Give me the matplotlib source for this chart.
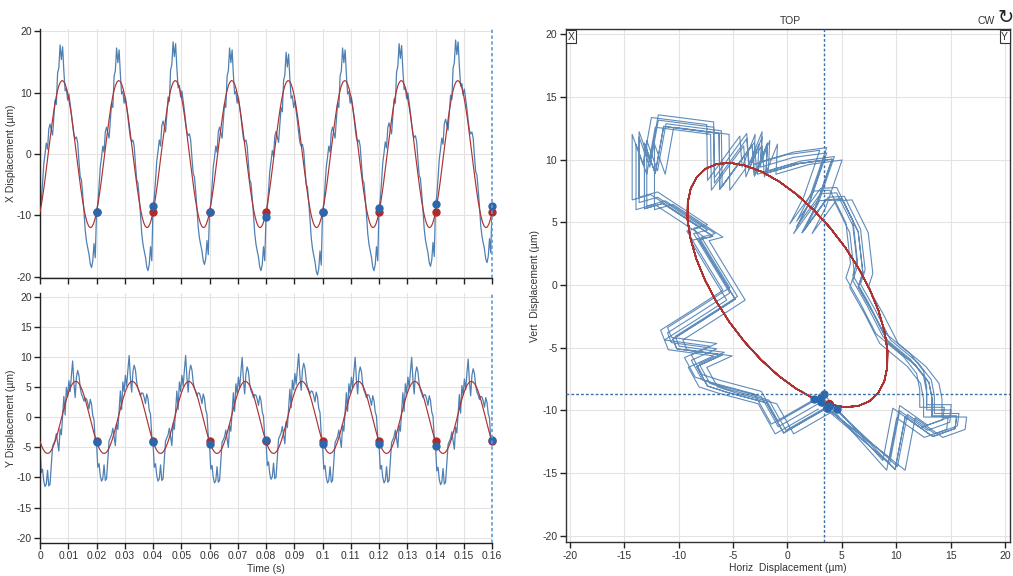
import numpy as np
import matplotlib.pyplot as plt
from matplotlib.ticker import FuncFormatter

plt.rcParams['font.family'] = ['Liberation Sans', 'DejaVu Sans']
plt.rcParams['axes.unicode_minus'] = False

rev_period = 0.02
n_revs = 8

# one revolution of raw probe samples (um), starting at the once-per-rev mark
x_raw = [-9.0, -7.6, -4.8, -1.6, 0.0, 1.8, 0.8, 4.1, 4.9, 4.0, 3.1, 6.0, 8.8, 8.1,
         13.2, 14.1, 17.8, 15.4, 17.5, 13.5, 10.3, 10.7, 8.8, 9.8, 8.2, 6.6, 4.7, 3.1,
         2.5, 2.8, 1.8, -1.1, -3.7, -4.2, -6.6, -9.3, -12.4, -14.2, -15.3, -16.3,
         -17.9, -18.5, -17.5, -14.6, -16.9]
y_raw = [-4.2, -8.4, -7.8, -9.8, -10.7, -10.3, -8.0, -10.6, -10.3, -7.2, -4.0, -3.5,
         -3.0, -1.9, -3.3, -4.8, -1.1, -2.1, 1.1, 4.3, 1.2, 5.8, 4.2, 6.9, 5.1, 7.8,
         10.2, 6.5, 4.1, 7.5, 8.6, 7.8, 5.8, 4.7, 4.2, 3.5, 4.0, 3.9, 3.2, 2.2, 3.8,
         3.0, 1.1, 0.4, -3.2]

# raw value at the start of each revolution (t = 0, 0.02, ... 0.16)
mark_x = [-9.0, -9.5, -8.5, -9.5, -10.2, -9.5, -8.8, -8.2, -8.5]
mark_y = [-5.0, -4.1, -4.1, -4.4, -3.8, -4.4, -4.4, -4.7, -3.8]

# 1X filtered signal, one revolution
x_filt = [-9.46, -8.03, -6.36, -4.50, -2.49, -0.42, 1.67, 3.71, 5.63, 7.39, 8.92, 10.18,
          11.13, 11.74, 11.99, 11.88, 11.41, 10.60, 9.46, 8.03, 6.36, 4.50, 2.49, 0.42,
          -1.67, -3.71, -5.63, -7.39, -8.92, -10.18, -11.13, -11.74, -11.99, -11.88,
          -11.41, -10.60]
y_filt = [-4.01, -4.73, -5.30, -5.71, -5.94, -6.00, -5.87, -5.56, -5.09, -4.46, -3.69,
          -2.82, -1.85, -0.84, 0.21, 1.25, 2.25, 3.18, 4.01, 4.73, 5.30, 5.71, 5.94,
          6.00, 5.87, 5.56, 5.09, 4.46, 3.69, 2.82, 1.85, 0.84, -0.21, -1.25, -2.25,
          -3.18]

time_ticks = [0, 0.01, 0.02, 0.03, 0.04, 0.05, 0.06, 0.07, 0.08, 0.09, 0.1, 0.11,
              0.12, 0.13, 0.14, 0.15, 0.16]

blue = '#4f80b3'
blue_dot = '#2b67ad'
red = '#ad3333'
red_dot = '#b02a2a'
grid_c = '#e6e2e2'
txt_c = '#333333'

# build the time records
x_raw = np.array(x_raw)
y_raw = np.array(y_raw)
n_raw = len(x_raw)
xs, ys = [], []
for k in range(n_revs):
    xs.append(x_raw + (mark_x[k] - x_raw[0]))
    ys.append(y_raw + (mark_y[k] - y_raw[0]))
xs.append([mark_x[-1]])
ys.append([mark_y[-1]])
x_sig = np.concatenate(xs)
y_sig = np.concatenate(ys)
t_sig = np.arange(len(x_sig)) * rev_period / n_raw

n_f = len(x_filt)
xf_sig = np.array(x_filt * n_revs + [x_filt[0]])
yf_sig = np.array(y_filt * n_revs + [y_filt[0]])
tf_sig = np.arange(len(xf_sig)) * rev_period / n_f

mark_idx = np.arange(1, n_revs + 1) * n_raw
mark_idx_f = np.arange(1, n_revs + 1) * n_f

# probes mounted at +/-45 deg -> horizontal / vertical orbit
r2 = np.sqrt(2)
h_sig = (y_sig - x_sig) / r2
v_sig = (x_sig + y_sig) / r2
hf_sig = (yf_sig - xf_sig) / r2
vf_sig = (xf_sig + yf_sig) / r2

fig = plt.figure(figsize=(10.13, 5.76), dpi=100)
ax_x = fig.add_axes([0.0395, 0.5174, 0.4462, 0.4323])
ax_y = fig.add_axes([0.0395, 0.0573, 0.4462, 0.434])
ax_o = fig.add_axes([0.5584, 0.0585, 0.4386, 0.8906])

fmt = FuncFormatter(lambda v, p: '%g' % round(v, 2))

for ax, raw, filt, yl, yticks, lim in [
        (ax_x, x_sig, xf_sig, 'X Displacement (µm)', [-20, -10, 0, 10, 20], (-20.2, 20.4)),
        (ax_y, y_sig, yf_sig, 'Y Displacement (µm)', [-20, -15, -10, -5, 0, 5, 10, 15, 20], (-20.9, 20.7))]:
    ax.plot(t_sig, raw, color=blue, lw=0.9, zorder=2)
    ax.plot(tf_sig, filt, color=red, lw=0.85, zorder=3)
    ax.plot(tf_sig[mark_idx_f], filt[mark_idx_f], 'o', color=red_dot, ms=5, zorder=4,
            clip_on=False)
    ax.plot(t_sig[mark_idx], raw[mark_idx], 'o', color=blue_dot, ms=5, zorder=5,
            clip_on=False)
    ax.axvline(t_sig[-1], color='#5b9bd5', lw=1.2, ls=(0, (2, 1.5)), zorder=6,
               clip_on=False)
    ax.set_xlim(0, 0.16)
    ax.set_ylim(*lim)
    ax.set_yticks(yticks)
    ax.set_xticks(time_ticks)
    ax.xaxis.set_major_formatter(fmt)
    ax.grid(True, color=grid_c, lw=0.8)
    ax.set_axisbelow(True)
    for s in ['top', 'right']:
        ax.spines[s].set_visible(False)
    for s in ['left', 'bottom']:
        ax.spines[s].set_color('#222222')
        ax.spines[s].set_linewidth(1.0)
    ax.tick_params(direction='out', length=4, width=1, colors='#222222',
                   labelsize=7.5, labelcolor=txt_c, pad=2)
    ax.set_ylabel(yl, fontsize=7.5, color=txt_c)
    ax.yaxis.set_label_coords(-0.054, 0.5)

ax_x.tick_params(axis='x', labelbottom=False)
ax_y.set_xlabel('Time (s)', fontsize=7.5, color=txt_c, labelpad=2)

# orbit
ax_o.plot(h_sig, v_sig, color=blue, lw=0.8, alpha=0.9, zorder=2)
ax_o.plot(hf_sig, vf_sig, color=red, lw=1.0, zorder=3)
ax_o.plot(hf_sig[mark_idx_f], vf_sig[mark_idx_f], 'o', color=red_dot, ms=5, zorder=4)
ax_o.plot(h_sig[mark_idx], v_sig[mark_idx], 'o', color=blue_dot, ms=5, zorder=5)
ax_o.axvline(h_sig[-1], color='#3d6fa8', lw=1.0, ls=(0, (2, 1.5)), zorder=6)
ax_o.axhline(v_sig[-1], color='#3d6fa8', lw=1.0, ls=(0, (2, 1.5)), zorder=6)
ax_o.set_xlim(-20.4, 20.46)
ax_o.set_ylim(-20.53, 20.4)
ax_o.set_xticks(range(-20, 21, 5))
ax_o.set_yticks(range(-20, 21, 5))
ax_o.grid(True, color=grid_c, lw=0.8)
ax_o.set_axisbelow(True)
for s in ax_o.spines.values():
    s.set_color('#333333')
    s.set_linewidth(1.0)
ax_o.tick_params(direction='out', length=4, width=1, colors='#222222',
                 labelsize=7.5, labelcolor=txt_c, pad=2)
ax_o.set_xlabel('Horiz  Displacement (µm)', fontsize=7.5, color=txt_c, labelpad=2)
ax_o.set_ylabel('Vert  Displacement (µm)', fontsize=7.5, color=txt_c)
ax_o.yaxis.set_label_coords(-0.058, 0.5)

box = dict(boxstyle='square,pad=0.15', fc='white', ec='#333333', lw=0.8)
ax_o.text(0.004, 0.995, 'X', transform=ax_o.transAxes, ha='left', va='top',
          fontsize=7.5, color=txt_c, bbox=box, zorder=7)
ax_o.text(0.996, 0.995, 'Y', transform=ax_o.transAxes, ha='right', va='top',
          fontsize=7.5, color=txt_c, bbox=box, zorder=7)
fig.text(0.78, 1 - 21 / 576, 'TOP', ha='center', va='center', fontsize=7.5, color=txt_c)
fig.text(0.973, 1 - 21 / 576, 'CW', ha='center', va='center', fontsize=7.5, color=txt_c)
fig.text(0.993, 1 - 18 / 576, '\u21bb', ha='center', va='center', fontsize=14,
         color='#222222', family='DejaVu Sans')

fig.savefig('out.png', dpi=100)
